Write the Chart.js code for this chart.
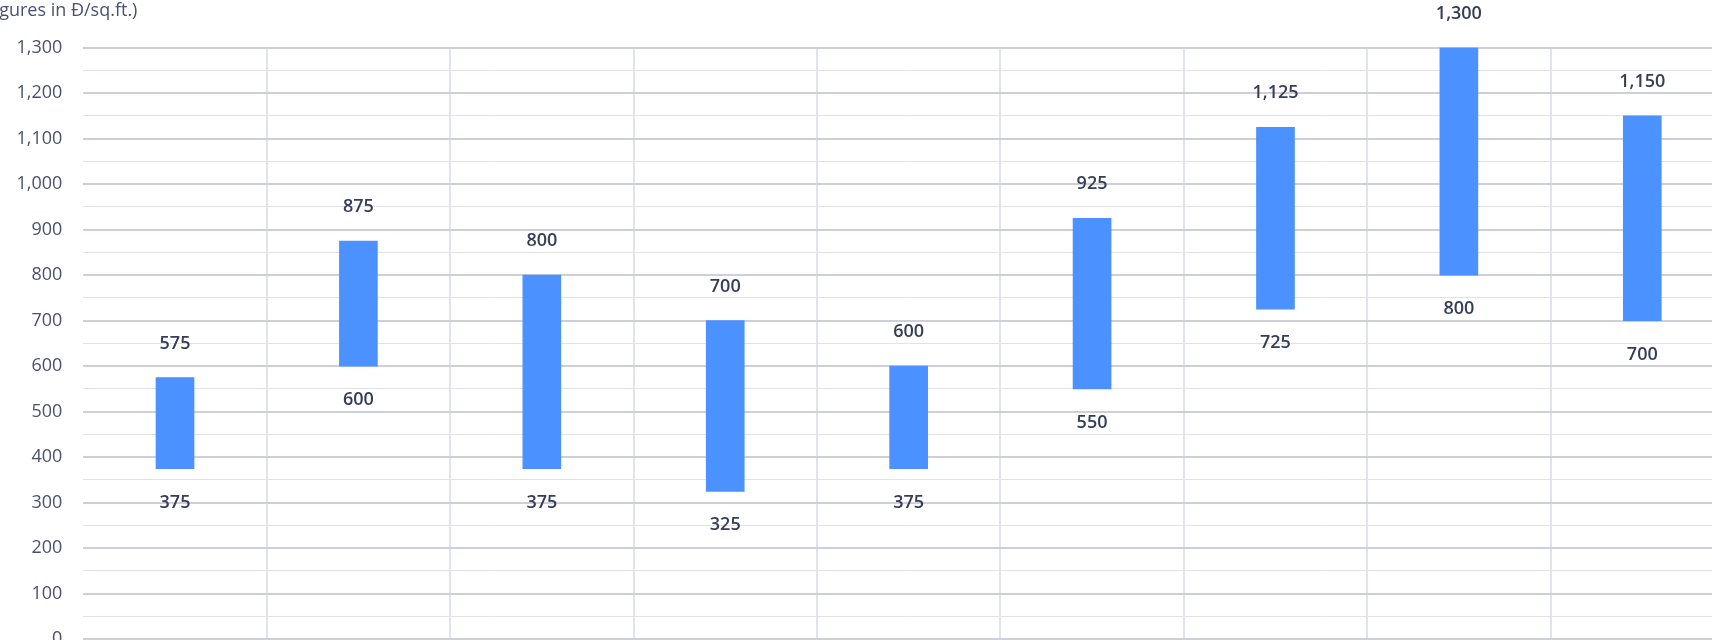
<!DOCTYPE html>
<html>
<head>
<meta charset="utf-8">
<script src="https://cdn.jsdelivr.net/npm/chart.js@4.4.1/dist/chart.umd.min.js"></script>
<style>
  html, body { margin: 0; padding: 0; background: #ffffff; overflow: hidden; }
  #wrap { position: absolute; left: -30px; top: 0; width: 1764px; height: 671px; }
</style>
</head>
<body>
<div id="wrap"><canvas id="chart" width="1764" height="671"></canvas></div>
<script>
// Price ranges per period, in Đ per sq.ft.
const periods = ['P1', 'P2', 'P3', 'P4', 'P5', 'P6', 'P7', 'P8', 'P9'];
const lowValues  = [375, 600, 375, 325, 375, 550, 725, 800, 700];
const highValues = [575, 875, 800, 700, 600, 925, 1125, 1300, 1150];
const yTickValues = [0, 100, 200, 300, 400, 500, 600, 700, 800, 900, 1000, 1100, 1200, 1300];
const unitTitle = '(Figures in Đ/sq.ft.)';

const fmt = new Intl.NumberFormat('en-US');

// Low / high value labels drawn just below / above each floating bar
const rangeLabels = {
  id: 'rangeLabels',
  afterDatasetsDraw(chart) {
    const ctx = chart.ctx;
    const meta = chart.getDatasetMeta(0);
    ctx.save();
    ctx.font = '600 18px "Open Sans"';
    ctx.fillStyle = '#363d59';
    ctx.textAlign = 'center';
    ctx.textBaseline = 'middle';
    meta.data.forEach((bar, i) => {
      const top = Math.min(bar.y, bar.base);
      const bottom = Math.max(bar.y, bar.base);
      ctx.fillText(fmt.format(highValues[i]), bar.x, top - 34);
      ctx.fillText(fmt.format(lowValues[i]), bar.x, bottom + 34);
    });
    ctx.restore();
  }
};

new Chart(document.getElementById('chart'), {
  type: 'bar',
  data: {
    labels: periods,
    datasets: [{
      data: periods.map((_, i) => [lowValues[i], highValues[i]]),
      backgroundColor: '#4b91ff',
      borderWidth: 0,
      barThickness: 38
    }]
  },
  plugins: [rangeLabels],
  options: {
    responsive: false,
    animation: false,
    layout: { padding: { left: 10, right: 0, top: 0, bottom: 22 } },
    plugins: {
      legend: { display: false },
      tooltip: { enabled: false },
      title: {
        display: true,
        text: unitTitle,
        align: 'start',
        color: '#4a5072',
        font: { family: '"Open Sans"', size: 18, weight: 'normal', lineHeight: 1.2 },
        padding: { top: 0, bottom: 26 }
      }
    },
    scales: {
      x: {
        border: { display: false },
        ticks: { display: false },
        grid: {
          offset: true,
          drawTicks: false,
          lineWidth: 2,
          color: (c) => c.index === 0 ? 'rgba(0,0,0,0)' : '#e3e4e9'
        }
      },
      y: {
        min: 0,
        max: 1300,
        border: { display: false },
        afterFit(scale) { scale.width = 103.3; },
        afterBuildTicks(scale) {
          const ticks = [];
          for (let v = 0; v <= 1300; v += 50) ticks.push({ value: v });
          scale.ticks = ticks;
        },
        ticks: {
          autoSkip: false,
          padding: 21,
          color: '#4a5072',
          font: { family: '"Open Sans"', size: 18 },
          callback: (v) => yTickValues.includes(v) ? fmt.format(v) : ''
        },
        grid: {
          drawTicks: false,
          lineWidth: (c) => (c.tick && c.tick.value % 100 === 0) ? 2 : 1,
          color: (c) => (c.tick && c.tick.value % 100 === 0) ? '#cdcfdb' : '#e1e2e9'
        }
      }
    }
  }
});
</script>
</body>
</html>
